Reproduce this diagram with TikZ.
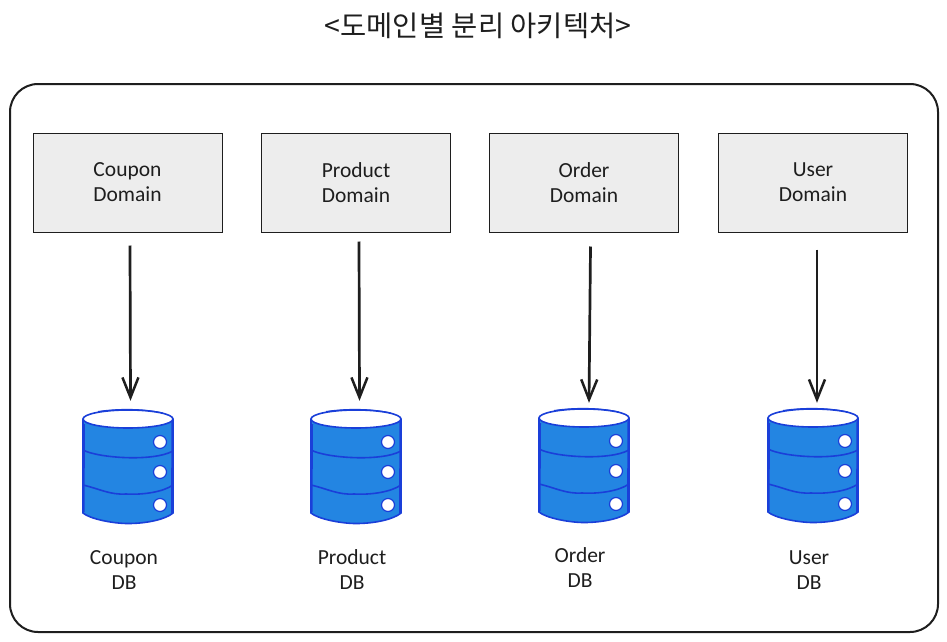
\documentclass[tikz,border=0pt]{standalone}
\usepackage{fontspec}
\setmainfont{Carlito}
\newfontfamily\cjk{Noto Sans CJK KR}
\usetikzlibrary{arrows.meta}
\definecolor{ink}{HTML}{1E1E1E}
\definecolor{boxfill}{HTML}{EDEDED}
\definecolor{dbfill}{HTML}{2385E2}
\definecolor{dbline}{HTML}{1A3FD9}
\tikzset{
  x=1pt,y=-1pt,
  frame/.style={draw=ink,line width=2pt,fill=white,rounded corners=28pt},
  domainbox/.style={draw=ink,line width=1pt,fill=boxfill,minimum width=189pt,minimum height=99pt,inner sep=0pt,align=center,text=ink,font=\fontsize{21.5}{25}\selectfont},
  dblabel/.style={align=center,text=ink,font=\fontsize{21.5}{25}\selectfont},
  dbanchor/.style={minimum width=90pt,minimum height=114pt,inner sep=0pt},
  flow/.style={draw=ink,line width=2.7pt,-{Straight Barb[length=20pt,width=16pt,line width=2.5pt]}},
  dbedge/.style={draw=dbline,line width=1.6pt},
  dbsketch/.style={draw=dbline,line width=1pt},
  dbhole/.style={draw=dbline,line width=1.2pt,fill=white},
  pics/database/.style={code={
    \path[fill=dbfill] (-45,-97) -- (-45,-3) .. controls (-38,3) and (-15,7.5) .. (0,7.5) .. controls (20,7.5) and (38,3) .. (45,-3) -- (45,-97) -- cycle;
    \draw[dbedge] (-45,-97) -- (-45,-3) .. controls (-38,3) and (-15,7.5) .. (0,7.5) .. controls (20,7.5) and (38,3) .. (45,-3) -- (45,-97);
    \draw[dbsketch] (-43.5,-92) -- (-44,-4);
    \draw[dbsketch] (44,-95) -- (43.5,-2);
    \draw[dbedge] (-45,-66) .. controls (-30,-58) and (25,-54) .. (45,-65);
    \draw[dbedge] (-45,-31) .. controls (-28,-27) and (-18,-21) .. (-2,-22) .. controls (15,-21) and (35,-24) .. (45,-31);
    \draw[dbedge,fill=white] (0,-97) ellipse [x radius=45,y radius=9];
    \draw[dbsketch] (-30,-104.5) .. controls (-10,-107.5) and (15,-107.5) .. (35,-103);
    \draw[dbhole] (32,-74) circle [radius=6.5];
    \draw[dbhole] (32,-44) circle [radius=6.5];
    \draw[dbhole] (32,-11) circle [radius=6.5];
  }}
}
\begin{document}
\begin{tikzpicture}
\useasboundingbox (0,0) rectangle (947,642);
\node[text=ink,font=\cjk\fontsize{28.5}{32}\selectfont] (title) at (478,26) {<도메인별 분리 아키텍처>};
\node[frame,minimum width=928pt,minimum height=548pt,inner sep=0pt] (outer) at (474,358) {};

\node[domainbox] (dom1) at (127.5,182.5) {Coupon\\Domain};
\node[domainbox] (dom2) at (356,182.5) {Product\\Domain};
\node[domainbox] (dom3) at (584,182.5) {Order\\Domain};
\node[domainbox] (dom4) at (813,182.5) {User\\Domain};

\node[dbanchor] (db1) at (128,466) {};
\node[dbanchor] (db2) at (356,466) {};
\node[dbanchor] (db3) at (584,465) {};
\node[dbanchor] (db4) at (813,466) {};
\pic at (128,516) {database};
\pic at (356,516) {database};
\pic at (584,515) {database};
\pic at (813,515) {database};

\draw[flow] ([xshift=2.5pt,yshift=-13pt]dom1.south) -- ([xshift=2.5pt,yshift=8pt]db1.north);
\draw[flow] ([xshift=3pt,yshift=-9pt]dom2.south) -- ([xshift=3.5pt,yshift=8pt]db2.north);
\draw[flow] ([xshift=6.5pt,yshift=-14pt]dom3.south) -- ([xshift=5pt,yshift=5pt]db3.north);
\draw[flow] ([xshift=4pt,yshift=-17pt]dom4.south) -- ([xshift=4pt,yshift=6pt]db4.north);

\node[dblabel] (lab1) at (124,570) {Coupon\\DB};
\node[dblabel] (lab2) at (352,570) {Product\\DB};
\node[dblabel] (lab3) at (580,568) {Order\\DB};
\node[dblabel] (lab4) at (809,570) {User\\DB};
\end{tikzpicture}
\end{document}
